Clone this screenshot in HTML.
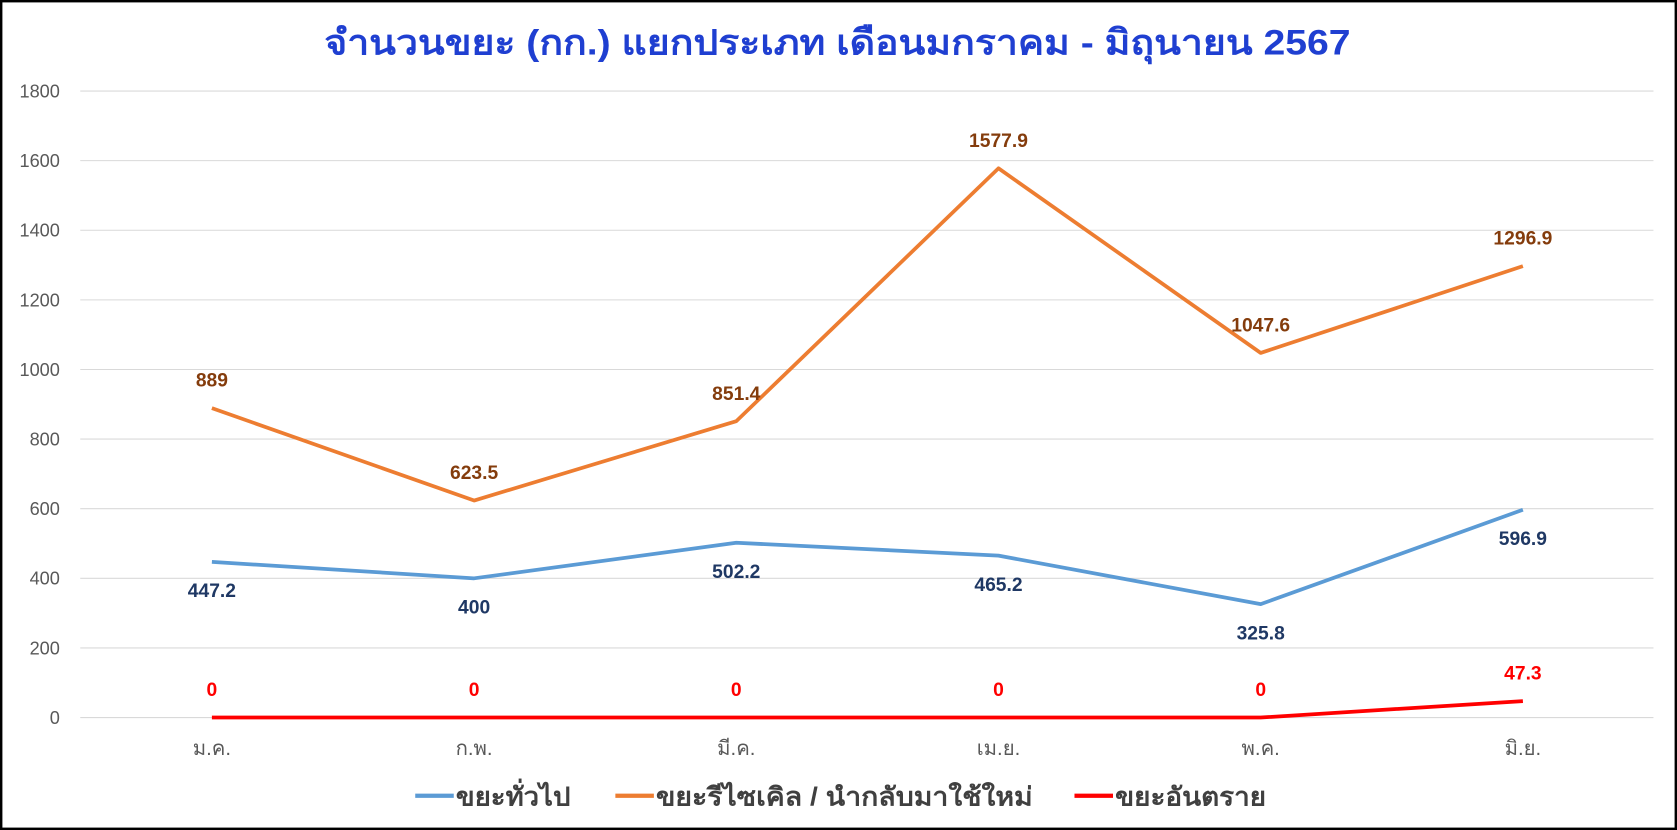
<!DOCTYPE html>
<html><head><meta charset="utf-8"><style>
html,body{margin:0;padding:0;background:#fff;}
svg{display:block;font-family:"Liberation Sans","Noto Sans CJK SC",sans-serif;}
</style></head><body>
<svg id="chart" width="1677" height="830" viewBox="0 0 1567 775" preserveAspectRatio="none" xmlns="http://www.w3.org/2000/svg">
<rect x="1" y="1" width="1565" height="773" fill="#fff" stroke="#000" stroke-width="2.5"/>
<text x="303" y="51" textLength="959" lengthAdjust="spacingAndGlyphs" font-size="33" font-weight="bold" fill="#1f3fd1">จำนวนขยะ (กก.) แยกประเภท เดือนมกราคม - มิถุนายน 2567</text>
<g id="grid"></g><g id="series"></g><g id="labels"></g>
<g font-size="24" font-weight="bold" fill="#404040">
<line x1="388" y1="743" x2="424" y2="743" stroke="#5b9bd5" stroke-width="4"/>
<text x="426" y="752" textLength="107" lengthAdjust="spacingAndGlyphs">ขยะทั่วไป</text>
<line x1="575" y1="743" x2="611" y2="743" stroke="#ed7d31" stroke-width="4"/>
<text x="613" y="752" textLength="352" lengthAdjust="spacingAndGlyphs">ขยะรีไซเคิล / นำกลับมาใช้ใหม่</text>
<line x1="1004" y1="743" x2="1040" y2="743" stroke="#ff0000" stroke-width="4"/>
<text x="1042" y="752" textLength="141" lengthAdjust="spacingAndGlyphs">ขยะอันตราย</text>
</g>
</svg>
<script>
const categories=["ม.ค.","ก.พ.","มี.ค.","เม.ย.","พ.ค.","มิ.ย."];
const general=[447.2,400,502.2,465.2,325.8,596.9];
const recycle=[889,623.5,851.4,1577.9,1047.6,1296.9];
const hazard=[0,0,0,0,0,47.3];
const ticks=[0,200,400,600,800,1000,1200,1400,1600,1800];
const NS="http://www.w3.org/2000/svg";
const y=v=>670-v*(585/1800);
const x=i=>198+i*245;
function mk(t,a,p){const e=document.createElementNS(NS,t);for(const k in a)e.setAttribute(k,a[k]);p.appendChild(e);return e;}
const grid=document.getElementById('grid'),ser=document.getElementById('series'),lab=document.getElementById('labels');
ticks.forEach(t=>{
 const l=mk('line',{x1:75,x2:1545,y1:y(t),y2:y(t),stroke:'#d9d9d9','stroke-width':1},grid);
 
 
 const tx=mk('text',{x:56,y:y(t)+6,'text-anchor':'end','font-size':17,fill:'#595959'},grid);
 tx.textContent=t;
 
 
});
categories.forEach((c,i)=>{
 const tx=mk('text',{x:x(i),y:705,'text-anchor':'middle','font-size':19,fill:'#595959'},grid);
 tx.textContent=c;
 
 
});
function series(vals,color,name,lcolor,off){
 const p=mk('polyline',{points:vals.map((v,i)=>x(i)+','+y(v)).join(' '),fill:'none',stroke:color,'stroke-width':3.5,'stroke-linejoin':'round'},ser);
 
 
 vals.forEach((v,i)=>{
  const tx=mk('text',{x:x(i),y:y(v)+off(i),'text-anchor':'middle','font-size':18,'font-weight':'bold',fill:lcolor},lab);
  tx.textContent=v;
  
  
 });
}
series(general,'#5b9bd5','general','#1f3864',i=>33);
series(recycle,'#ed7d31','recycle','#843c0c',i=>-20);
series(hazard,'#ff0000','hazard','#ff0000',i=>-20);
</script>
</body></html>
